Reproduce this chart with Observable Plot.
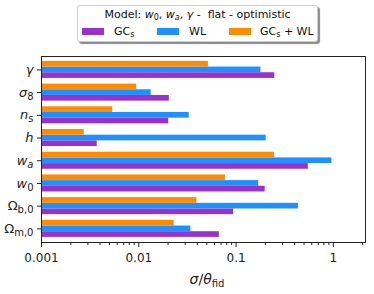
<!DOCTYPE html>
<html><head><meta charset="utf-8">
<script src="https://cdn.jsdelivr.net/npm/d3@7"></script>
<script src="https://cdn.jsdelivr.net/npm/@observablehq/plot@0.6"></script>
<style>
body{margin:0;background:#fff;font-family:"DejaVu Sans",sans-serif;}
#legendArea{position:relative;width:374px;height:48px;}
#legendBox{position:absolute;left:77px;top:5px;width:241px;height:37px;box-sizing:border-box;border:1px solid #d0d0d0;border-radius:3px;background:#fff;box-shadow:2px 2px 1px #8a8a8a;font-size:11px;color:#111;}
#legendTitle{position:absolute;left:0;right:0;top:2px;text-align:center;white-space:nowrap;}
.item{position:absolute;top:19px;white-space:nowrap;}
.sw{position:absolute;top:22px;width:22px;height:7px;}
sub{font-size:8px;vertical-align:-2px;line-height:0;}
</style>
</head><body>
<div id="legendArea"><div id="legendBox"></div></div>
<div id="chart"></div>
<script>
const labelMain = ["γ","σ","n","h","w","w","Ω","Ω"];
const labelSub = ["","8","s","","a","0","b,0","m,0"];
const mainItalic = [true,true,true,true,true,true,false,false];
const subItalic = [false,false,false,false,true,false,false,false];
const seriesNames = ["GCs","WL","GCs+WL"];
const seriesColors = ["#9932CC","#1E90FF","#FF8C00"];
const gcs  = [0.25, 0.0206, 0.0203, 0.00374, 0.553, 0.199, 0.0944, 0.0673];
const wl   = [0.18, 0.0134, 0.033, 0.204, 0.966, 0.171, 0.438, 0.0343];
const comb = [0.052, 0.0095, 0.0054, 0.00275, 0.248, 0.0777, 0.0396, 0.0231];
const xTicks = [0.001, 0.01, 0.1, 1];
const xDomain = [0.001, 2.14];

const seriesValues = [gcs, wl, comb];
const rows = [];
seriesValues.forEach((vals, s) => vals.forEach((v, i) => rows.push({i, s, series: seriesNames[s], value: v, off: (1 - s) * 0.25})));
const barH = 0.25;
const minor = [];
for (const dec of [0.001, 0.01, 0.1, 1]) for (let m = 2; m <= 9; m++) { const t = dec * m; if (t <= xDomain[1]) minor.push(t); }

const plot = Plot.plot({
  width: 374, height: 246,
  marginTop: 8, marginBottom: 52, marginLeft: 41, marginRight: 9,
  x: {type: "log", domain: xDomain},
  y: {domain: [-0.59, 7.6], reverse: true},
  color: {domain: seriesNames, range: seriesColors},
  style: {fontFamily: "DejaVu Sans", fontSize: "12px", color: "#222", background: "#fff"},
  marks: [
    Plot.rectX(rows, {x1: d => xDomain[0], x2: "value", y1: d => d.i + d.off - barH / 2, y2: d => d.i + d.off + barH / 2, fill: "series"}),
    Plot.axisX({ticks: minor, tickSize: 3, tickFormat: () => "", label: null}),
    Plot.axisX({ticks: xTicks, tickSize: 5, tickPadding: 6, tickFormat: d => String(d), fontSize: 12, label: null}),
    Plot.axisY({ticks: d3.range(labelMain.length), tickSize: 4, tickPadding: 4, tickFormat: i => String(i), fontSize: 13, label: null}),
    Plot.frame({stroke: "#222", strokeWidth: 1})
  ]
});
document.getElementById("chart").appendChild(plot);

// rich y tick labels
d3.select(plot).selectAll('[aria-label="y-axis tick label"] text').each(function() {
  const i = +this.textContent;
  const t = d3.select(this);
  t.text(null);
  t.append("tspan").attr("font-style", mainItalic[i] ? "italic" : "normal").text(labelMain[i]);
  if (labelSub[i]) t.append("tspan").attr("font-size", 10).attr("dy", 3).attr("font-style", subItalic[i] ? "italic" : "normal").text(labelSub[i]);
});

// x axis label
const xl = d3.select(plot).append("text")
  .attr("x", 207).attr("y", 236).attr("text-anchor", "middle")
  .attr("font-size", 14).attr("fill", "#222");
xl.append("tspan").attr("font-style", "italic").text("σ");
xl.append("tspan").text("/");
xl.append("tspan").attr("font-style", "italic").text("θ");
xl.append("tspan").attr("font-size", 10).attr("dy", 3).text("fid");

// legend
const box = document.getElementById("legendBox");
box.innerHTML = '<div id="legendTitle">Model: <i>w</i><sub>0</sub>, <i>w</i><sub><i>a</i></sub>, <i>γ</i> -&nbsp; flat - optimistic</div>';
const swLeft = [4, 79, 151];
const txLeft = [36, 111, 182];
const labelsHtml = ["GC<sub>s</sub>", "WL", "GC<sub>s</sub> + WL"];
seriesNames.forEach((n, k) => {
  const sw = document.createElement("div");
  sw.className = "sw"; sw.style.left = swLeft[k] + "px"; sw.style.background = seriesColors[k];
  box.appendChild(sw);
  const tx = document.createElement("div");
  tx.className = "item"; tx.style.left = txLeft[k] + "px"; tx.innerHTML = labelsHtml[k];
  box.appendChild(tx);
});
</script>
</body></html>
